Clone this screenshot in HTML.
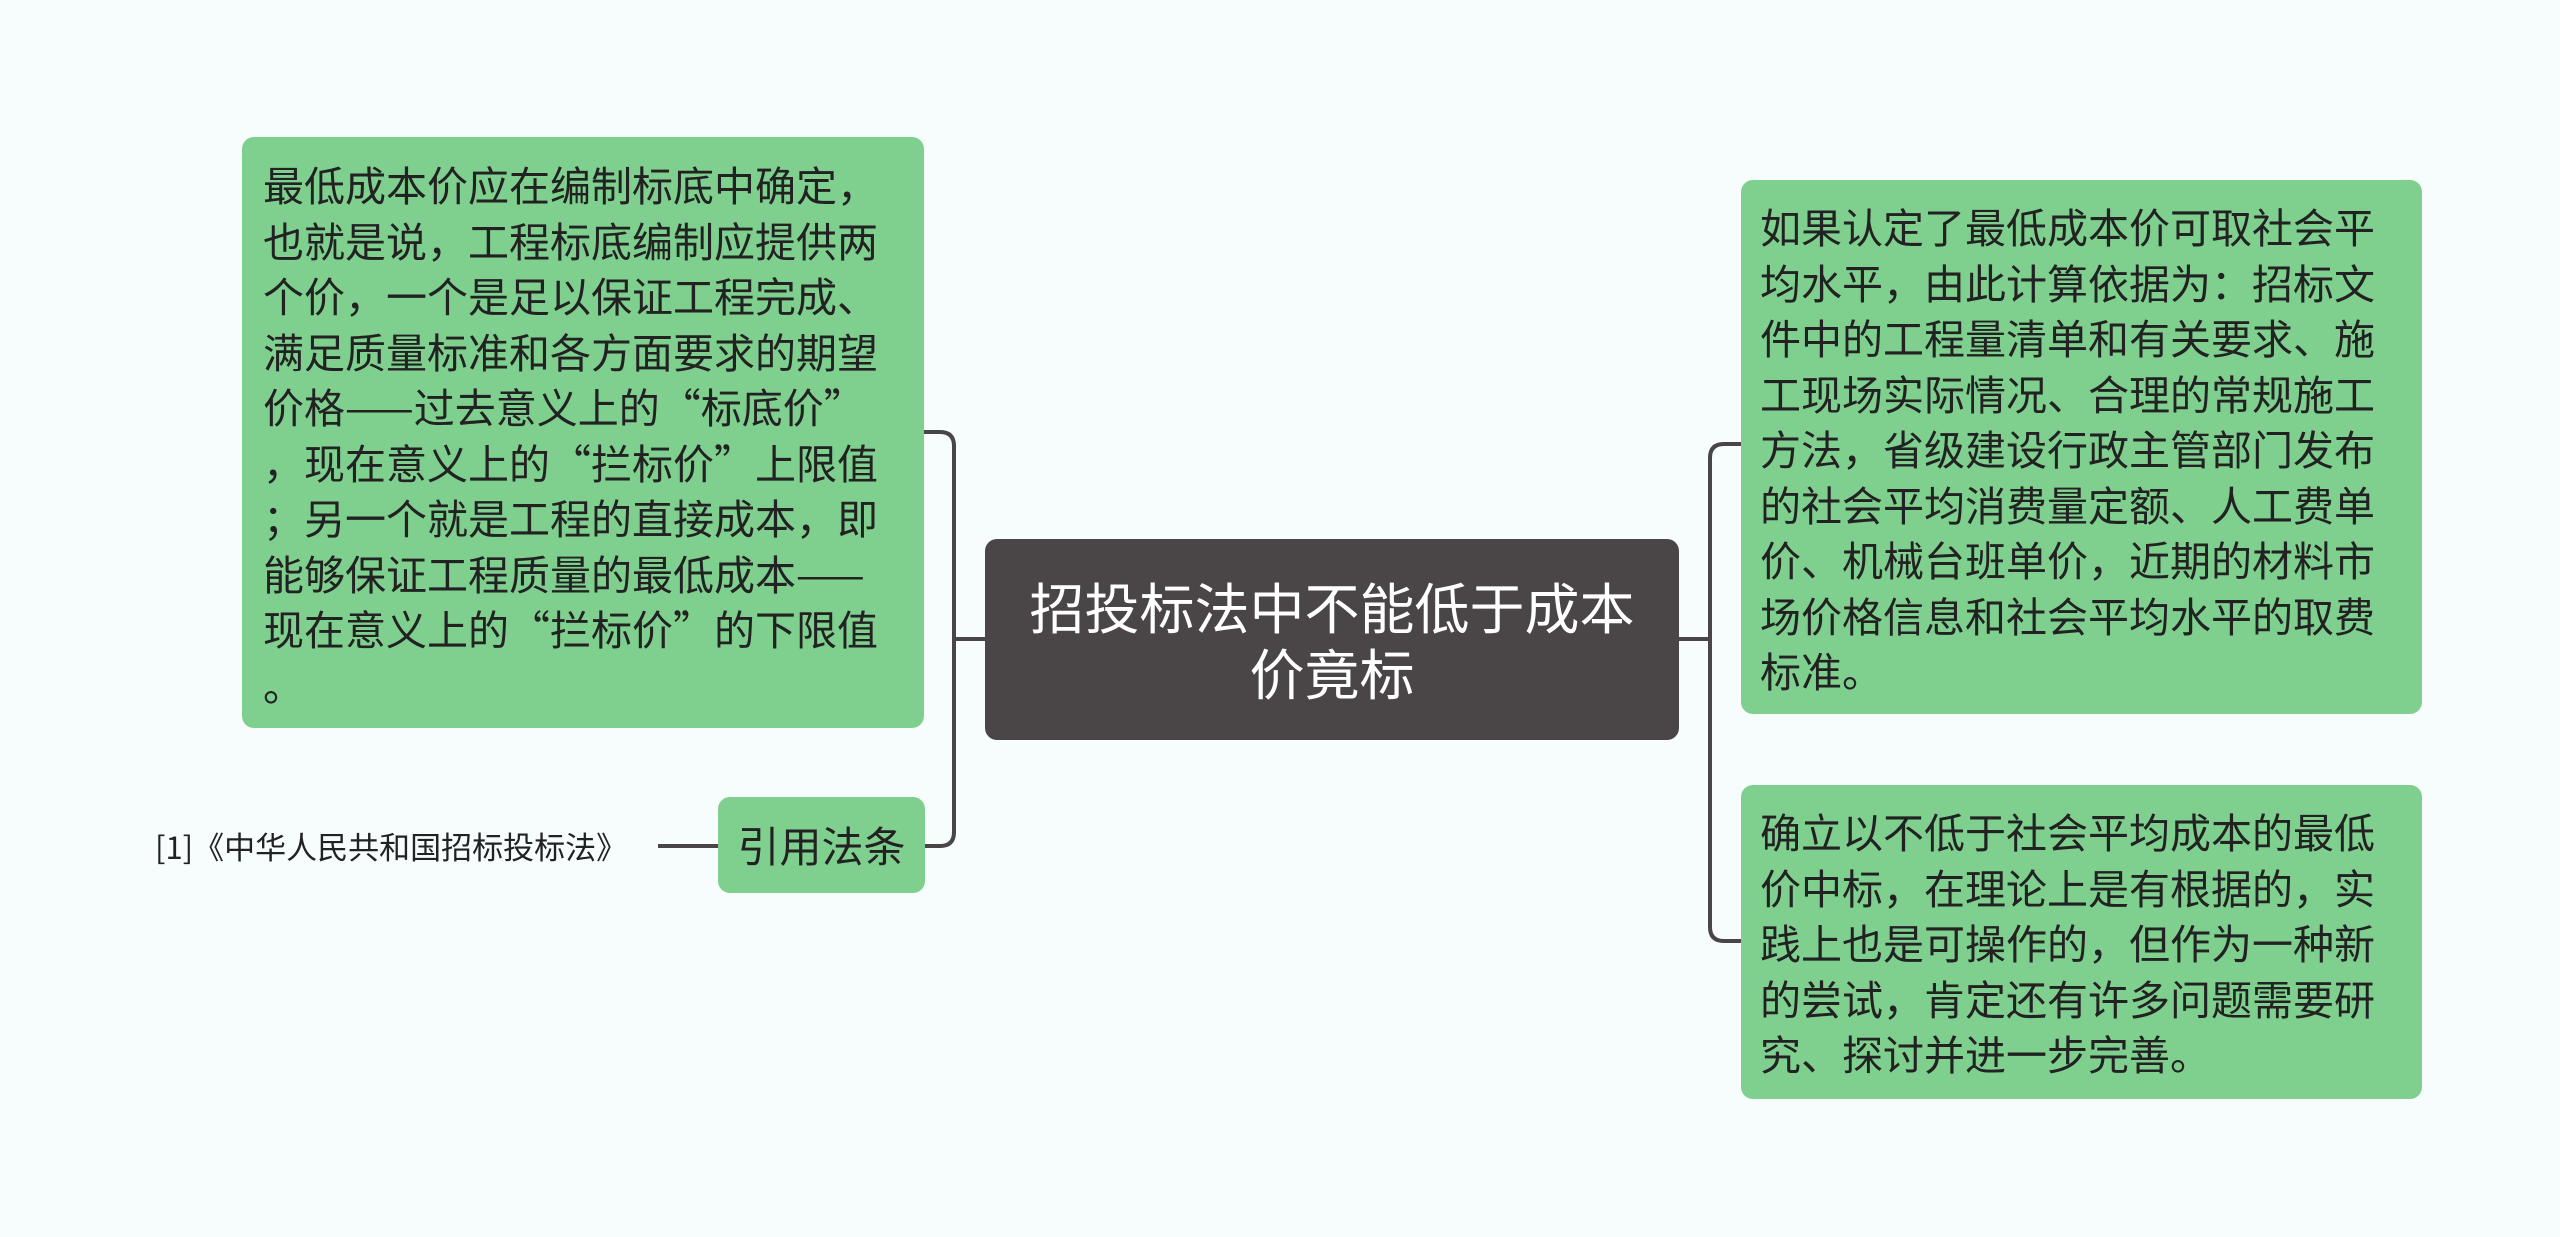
<!DOCTYPE html>
<html><head><meta charset="utf-8"><style>
html,body{margin:0;padding:0}
body{width:2560px;height:1237px;background:#f7fdfd;position:relative;overflow:hidden;font-family:"Noto Sans CJK SC","Liberation Sans",sans-serif}
.b{position:absolute;background:#7fcf8f;border-radius:12px;color:#222;box-sizing:border-box}
.t{font-size:41px;line-height:55.5px;white-space:nowrap}
</style></head><body>
<svg width="2560" height="1237" style="position:absolute;left:0;top:0">
<g stroke="#4a4546" stroke-width="4" fill="none">
<path d="M985 639 H954"/>
<path d="M924 432 H940 Q954 432 954 446 V832 Q954 846 940 846 H924"/>
<path d="M658 846 H718"/>
<path d="M1679 639 H1710"/>
<path d="M1741 444 H1724 Q1710 444 1710 458 V927 Q1710 941 1724 941 H1741"/>
</g></svg>
<div class="b" style="left:985px;top:539px;width:694px;height:201px;background:#4a4546;color:#fff;font-size:55px;line-height:66px;text-align:center;padding-top:33px">招投标法中不能低于成本<br>价竟标</div>
<div class="b t" style="left:242px;top:137px;width:682px;height:591px;padding:19px 0 0 21px">最低成本价应在编制标底中确定，<br>也就是说，工程标底编制应提供两<br>个价，一个是足以保证工程完成、<br>满足质量标准和各方面要求的期望<br>价格——过去意义上的“标底价”<br>，现在意义上的“拦标价”上限值<br>；另一个就是工程的直接成本，即<br>能够保证工程质量的最低成本——<br>现在意义上的“拦标价”的下限值<br>。</div>
<div class="b" style="left:718px;top:797px;width:207px;height:96px;font-size:42px;line-height:96px;text-align:center">引用法条</div>
<div style="position:absolute;left:155px;top:826px;font-size:31px;line-height:40px;color:#222;white-space:nowrap">[1]《中华人民共和国招标投标法》</div>
<div class="b t" style="left:1741px;top:180px;width:681px;height:534px;padding:18px 0 0 19px">如果认定了最低成本价可取社会平<br>均水平，由此计算依据为：招标文<br>件中的工程量清单和有关要求、施<br>工现场实际情况、合理的常规施工<br>方法，省级建设行政主管部门发布<br>的社会平均消费量定额、人工费单<br>价、机械台班单价，近期的材料市<br>场价格信息和社会平均水平的取费<br>标准。</div>
<div class="b t" style="left:1741px;top:785px;width:681px;height:314px;padding:18px 0 0 19px">确立以不低于社会平均成本的最低<br>价中标，在理论上是有根据的，实<br>践上也是可操作的，但作为一种新<br>的尝试，肯定还有许多问题需要研<br>究、探讨并进一步完善。</div>
</body></html>
